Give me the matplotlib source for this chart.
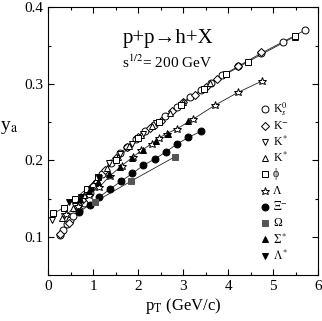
import matplotlib
matplotlib.use("Agg")
import matplotlib.pyplot as plt
from matplotlib.ticker import MultipleLocator

plt.rcParams['font.family'] = ['Liberation Serif', 'DejaVu Serif']
plt.rcParams['mathtext.fontset'] = 'stix'

# ---- data ----
k0s_pt = [0.26, 0.33, 0.41, 0.48, 0.56, 0.68, 0.80, 0.92, 1.05, 1.20, 1.40, 1.60, 1.75, 1.95, 2.15, 2.35, 2.60, 2.85, 3.15, 3.40, 3.62, 3.87, 4.22, 4.73, 5.22, 5.70]
k0s_y = [0.103, 0.109, 0.117, 0.122, 0.128, 0.135, 0.145, 0.158, 0.170, 0.182, 0.196, 0.210, 0.217, 0.228, 0.238, 0.246, 0.258, 0.270, 0.283, 0.292, 0.301, 0.311, 0.323, 0.340, 0.355, 0.370]

km_pt = [0.27, 0.45, 0.75, 1.00, 1.25, 1.50, 1.75, 2.00, 2.25, 2.50, 2.75, 3.00, 3.25, 3.50, 3.75, 4.22, 4.73]
km_y = [0.104, 0.118, 0.148, 0.167, 0.188, 0.203, 0.218, 0.230, 0.242, 0.252, 0.264, 0.276, 0.286, 0.296, 0.306, 0.323, 0.341]

kstd_pt = [0.09, 0.35, 0.60, 0.85, 1.10, 1.35, 1.60, 1.85, 2.10, 2.40]
kstd_y = [0.122, 0.128, 0.140, 0.160, 0.178, 0.196, 0.209, 0.222, 0.235, 0.249]

kstu_pt = [0.30, 0.55, 0.80, 1.05, 1.30, 1.55, 1.80, 2.05, 2.30, 2.70, 3.00, 3.60, 5.48]
kstu_y = [0.125, 0.138, 0.155, 0.175, 0.190, 0.205, 0.219, 0.233, 0.245, 0.262, 0.276, 0.301, 0.361]

phi_pt = [0.11, 0.35, 0.60, 0.85, 1.10, 1.50, 2.00, 2.45, 2.95, 3.45, 3.96, 4.44, 5.48]
phi_y = [0.131, 0.138, 0.150, 0.163, 0.178, 0.200, 0.229, 0.250, 0.273, 0.293, 0.313, 0.329, 0.362]

lam_pt = [0.40, 0.65, 0.90, 1.13, 1.37, 1.63, 1.89, 2.07, 2.30, 2.45, 2.63, 2.85, 3.22, 3.70, 4.22, 4.76]
lam_y = [0.130, 0.140, 0.155, 0.165, 0.180, 0.193, 0.205, 0.213, 0.222, 0.229, 0.235, 0.241, 0.254, 0.272, 0.289, 0.304]

xi_pt = [0.68, 0.93, 1.13, 1.38, 1.62, 1.87, 2.11, 2.37, 2.61, 2.85, 3.11, 3.39]
xi_y = [0.133, 0.142, 0.152, 0.163, 0.173, 0.183, 0.1935, 0.202, 0.211, 0.221, 0.230, 0.238]

om_pt = [1.04, 1.84, 2.82]
om_y = [0.146, 0.173, 0.205]

sig_pt = [0.70, 0.90, 1.10, 1.35, 1.60, 1.85, 2.10, 2.40, 2.65, 3.10]
sig_y = [0.150, 0.160, 0.172, 0.182, 0.192, 0.203, 0.213, 0.226, 0.234, 0.252]

lst_pt = [0.45, 0.72, 0.95, 1.12]
lst_y = [0.146, 0.152, 0.162, 0.177]

labels = [r'K$^0_s$', r'K$^{-}$', r'K$^*$', r'K$^*$', '\u03d5', '\u039b',
          r'$\Xi^{-}$', '\u03a9', r'$\Sigma^*$', r'$\Lambda^*$']

fig = plt.figure(figsize=(3.22, 3.21), dpi=100)
ax = fig.add_axes([0.150, 0.1424, 0.8385, 0.8349])

lw = 0.6
for xs, ys in [(k0s_pt, k0s_y), (phi_pt, phi_y), (lam_pt, lam_y), (xi_pt, xi_y), (om_pt, om_y)]:
    ax.plot(xs, ys, '-', color='#222222', lw=lw, zorder=2)

ms = 5
mew = 0.7
styles = [
    dict(marker='o', mfc='white', mec='black', ms=ms),
    dict(marker='D', mfc='white', mec='black', ms=ms - 0.8),
    dict(marker='v', mfc='white', mec='black', ms=ms),
    dict(marker='^', mfc='white', mec='black', ms=ms),
    dict(marker='s', mfc='white', mec='black', ms=ms - 0.5),
    dict(marker='*', mfc='white', mec='black', ms=ms + 1.2),
    dict(marker='o', mfc='black', mec='black', ms=ms),
    dict(marker='s', mfc='#555555', mec='#555555', ms=ms - 0.5),
    dict(marker='^', mfc='black', mec='black', ms=ms),
    dict(marker='v', mfc='black', mec='black', ms=ms),
]
data = [(k0s_pt, k0s_y), (km_pt, km_y), (kstd_pt, kstd_y), (kstu_pt, kstu_y), (phi_pt, phi_y),
        (lam_pt, lam_y), (xi_pt, xi_y), (om_pt, om_y), (sig_pt, sig_y), (lst_pt, lst_y)]
for (xs, ys), kw in zip(data, styles):
    ax.plot(xs, ys, linestyle='none', mew=mew, zorder=3, **kw)

# manual legend (symbol + label), placed in axes coordinates
leg_x_m = 0.803
leg_x_t = 0.832
for i, (kw, lab) in enumerate(zip(styles, labels)):
    yy = (275.3 - (109.3 + 16.27 * i)) / 268.0
    ax.plot([leg_x_m], [yy], transform=ax.transAxes, linestyle='none', mew=mew,
            clip_on=False, zorder=4, **kw)
    ax.text(leg_x_t, yy, lab, transform=ax.transAxes, ha='left', va='center', fontsize=8.5)

ax.set_xlim(0, 6)
ax.set_ylim(0.05, 0.4)
ax.xaxis.set_major_locator(MultipleLocator(1))
ax.xaxis.set_minor_locator(MultipleLocator(0.5))
ax.set_yticks([0.1, 0.2, 0.3, 0.4])
ax.yaxis.set_minor_locator(MultipleLocator(0.05))
ax.tick_params(which='both', direction='in', top=True, right=True, labelsize=11, width=0.8)
ax.tick_params(which='major', length=4)
ax.tick_params(which='minor', length=2.5)
for sp in ax.spines.values():
    sp.set_linewidth(0.8)

ax.set_xlabel(r'p$_\mathrm{T}$ (GeV/c)', fontsize=12, labelpad=2)
ax.set_ylabel(r'y$_\mathrm{a}$', fontsize=14, rotation=0, va='center', ha='center')
ax.yaxis.set_label_coords(-0.145, 0.55)

ax.text(0.445, 0.885, 'p+p\u2192h+X', transform=ax.transAxes, ha='center', va='center', fontsize=15)
ax.text(0.44, 0.796, r's$^{1/2}$= 200 GeV', transform=ax.transAxes, ha='center', va='center', fontsize=11)

fig.savefig('out.png', dpi=100)
